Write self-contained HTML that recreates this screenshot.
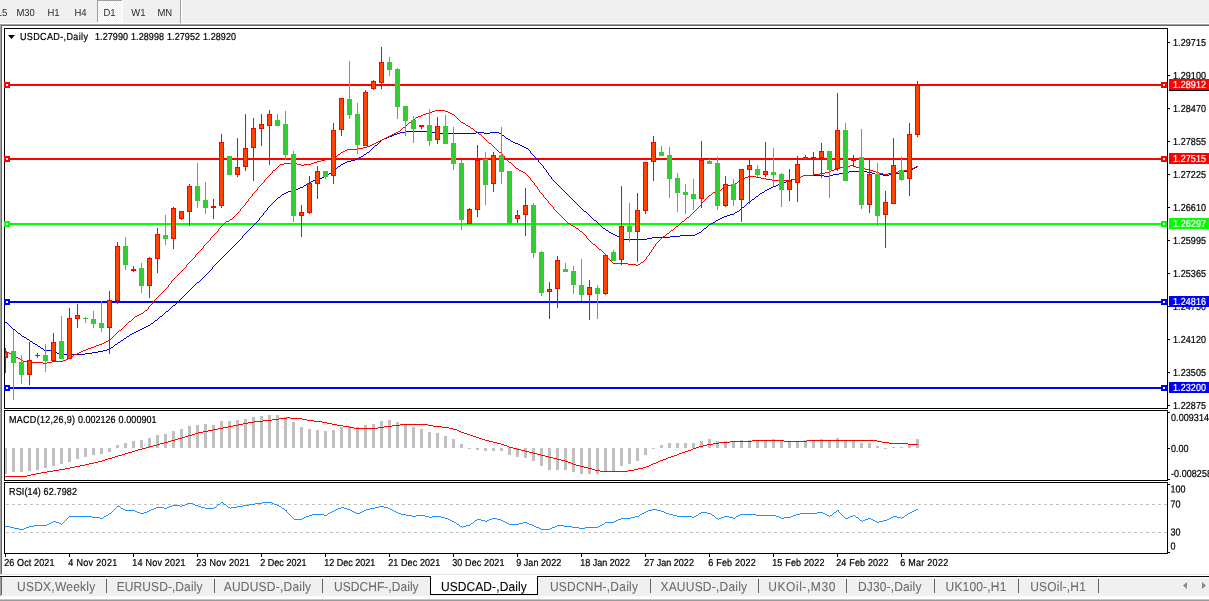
<!DOCTYPE html>
<html><head><meta charset="utf-8"><title>USDCAD-,Daily</title>
<style>html,body{margin:0;padding:0;background:#fff;overflow:hidden}svg text{white-space:pre}</style></head>
<body>
<svg width="1209" height="601" viewBox="0 0 1209 601" shape-rendering="crispEdges" font-family="Liberation Sans, sans-serif" style="display:block">
<rect x="0" y="0" width="1209" height="601" fill="#f0f0f0"/>
<rect x="0" y="23" width="1209" height="1" fill="#ffffff"/>
<rect x="0" y="24" width="1209" height="1" fill="#a0a0a0"/>
<rect x="0" y="25" width="1209" height="1" fill="#696969"/>
<rect x="0" y="26" width="1209" height="550" fill="#ffffff"/>
<rect x="0" y="24" width="1" height="551" fill="#a0a0a0"/>
<rect x="1" y="25" width="1" height="550" fill="#696969"/>
<rect x="0" y="574" width="1209" height="1" fill="#e3e3e3"/>
<rect x="2" y="575" width="1209" height="1" fill="#ffffff"/>
<rect x="0" y="576" width="1209" height="1" fill="#000000"/>
<rect x="0" y="577" width="1209" height="19" fill="#f0f0f0"/>
<rect x="0" y="577" width="1209" height="1" fill="#f8f8f8"/>
<rect x="0" y="577" width="1" height="19" fill="#a0a0a0"/>
<rect x="1" y="577" width="1" height="18" fill="#696969"/>
<rect x="0" y="596" width="1209" height="3" fill="#ffffff"/>
<rect x="0" y="599" width="1209" height="1" fill="#c8c8c8"/>
<rect x="0" y="600" width="1209" height="1" fill="#9a9a9a"/>
<defs><pattern id="chk" width="2" height="2" patternUnits="userSpaceOnUse"><rect width="2" height="2" fill="#f0f0f0"/><rect width="1" height="1" fill="#ffffff"/><rect x="1" y="1" width="1" height="1" fill="#ffffff"/></pattern></defs>
<rect x="97" y="0" width="25" height="22" fill="url(#chk)"/>
<rect x="97" y="0" width="25" height="1" fill="#a0a0a0"/>
<rect x="97" y="0" width="1" height="22" fill="#a0a0a0"/>
<rect x="122" y="0" width="1" height="22" fill="#ffffff"/>
<rect x="97" y="22" width="26" height="1" fill="#ffffff"/>
<rect x="180" y="0" width="1" height="23" fill="#a0a0a0"/>
<rect x="181" y="0" width="1" height="23" fill="#ffffff"/>
<text transform="translate(-3.3 16) rotate(0.05) scale(1 1.07)" font-size="9.5" fill="#2a2a2a" stroke="#2a2a2a" stroke-width="0" >15</text>
<text transform="translate(16.4 16) rotate(0.05) scale(1 1.07)" font-size="9.5" fill="#2a2a2a" stroke="#2a2a2a" stroke-width="0" >M30</text>
<text transform="translate(47.4 16) rotate(0.05) scale(1 1.07)" font-size="9.5" fill="#2a2a2a" stroke="#2a2a2a" stroke-width="0" >H1</text>
<text transform="translate(74.4 16) rotate(0.05) scale(1 1.07)" font-size="9.5" fill="#2a2a2a" stroke="#2a2a2a" stroke-width="0" >H4</text>
<text transform="translate(103.4 16) rotate(0.05) scale(1 1.07)" font-size="9.5" fill="#2a2a2a" stroke="#2a2a2a" stroke-width="0" >D1</text>
<text transform="translate(131.2 16) rotate(0.05) scale(1 1.07)" font-size="9.5" fill="#2a2a2a" stroke="#2a2a2a" stroke-width="0" >W1</text>
<text transform="translate(157.4 16) rotate(0.05) scale(1 1.07)" font-size="9.5" fill="#2a2a2a" stroke="#2a2a2a" stroke-width="0" >MN</text>
<rect x="4" y="28" width="1164" height="1" fill="#000"/>
<rect x="4" y="408" width="1164" height="1" fill="#000"/>
<rect x="4" y="28" width="1" height="381" fill="#000"/>
<rect x="1167" y="28" width="1" height="381" fill="#000"/>
<rect x="4" y="410" width="1164" height="1" fill="#000"/>
<rect x="4" y="480" width="1164" height="1" fill="#000"/>
<rect x="4" y="410" width="1" height="71" fill="#000"/>
<rect x="1167" y="410" width="1" height="71" fill="#000"/>
<rect x="4" y="482" width="1164" height="1" fill="#000"/>
<rect x="4" y="553" width="1164" height="1" fill="#000"/>
<rect x="4" y="482" width="1" height="72" fill="#000"/>
<rect x="1167" y="482" width="1" height="72" fill="#000"/>
<clipPath id="cm"><rect x="5" y="29" width="1162" height="379"/></clipPath>
<clipPath id="c2"><rect x="5" y="411" width="1162" height="69"/></clipPath>
<clipPath id="c3"><rect x="5" y="483" width="1162" height="70"/></clipPath>
<rect x="5" y="84" width="1162" height="2" fill="#ff0000"/>
<rect x="5" y="158" width="1162" height="2" fill="#ff0000"/>
<rect x="5" y="223" width="1162" height="2" fill="#00ff00"/>
<rect x="5" y="301" width="1162" height="2" fill="#0000ff"/>
<rect x="5" y="387" width="1162" height="2" fill="#0000ff"/>
<g clip-path="url(#cm)">
<path fill="#0000cd" d="M5 322h2v1h-2zM7 323h1v1h-1zM8 324h1v1h-1zM9 325h1v1h-1zM10 326h1v1h-1zM11 327h1v1h-1zM12 328h1v1h-1zM13 329h2v1h-2zM15 330h1v1h-1zM16 331h1v1h-1zM17 332h1v1h-1zM18 333h2v1h-2zM20 334h1v1h-1zM21 335h1v1h-1zM22 336h2v1h-2zM24 337h2v1h-2zM26 338h1v1h-1zM27 339h2v1h-2zM29 340h1v1h-1zM30 341h2v1h-2zM32 342h1v1h-1zM33 343h2v1h-2zM35 344h2v1h-2zM37 345h1v1h-1zM38 346h2v1h-2zM40 347h1v1h-1zM41 348h2v1h-2zM43 349h1v1h-1zM44 350h8v1h-8zM52 351h2v1h-2zM54 352h3v1h-3zM57 353h4v1h-4zM61 354h24v1h-24zM85 353h7v1h-7zM92 352h6v1h-6zM98 351h5v1h-5zM103 350h4v1h-4zM107 349h3v1h-3zM110 348h1v1h-1zM111 347h2v1h-2zM113 346h1v1h-1zM114 345h1v1h-1zM115 344h2v1h-2zM117 343h1v1h-1zM118 342h2v1h-2zM120 341h1v1h-1zM121 340h2v1h-2zM123 339h1v1h-1zM124 338h2v1h-2zM126 337h1v1h-1zM127 336h2v1h-2zM129 335h1v1h-1zM130 334h2v1h-2zM132 333h2v1h-2zM134 332h2v1h-2zM136 331h2v1h-2zM138 330h2v1h-2zM140 329h2v1h-2zM142 328h2v1h-2zM144 327h2v1h-2zM146 326h2v1h-2zM148 325h2v1h-2zM150 324h1v1h-1zM151 323h2v1h-2zM153 322h1v1h-1zM154 321h1v1h-1zM155 320h2v1h-2zM157 319h1v1h-1zM158 318h1v1h-1zM159 317h1v1h-1zM160 316h2v1h-2zM162 315h1v1h-1zM163 314h1v1h-1zM164 313h1v1h-1zM165 312h1v1h-1zM166 311h2v1h-2zM168 310h1v1h-1zM169 309h1v1h-1zM170 308h1v1h-1zM171 307h1v1h-1zM172 306h1v1h-1zM173 305h2v1h-2zM175 304h1v1h-1zM176 303h1v1h-1zM177 302h1v1h-1zM178 301h1v1h-1zM179 300h1v1h-1zM180 299h1v1h-1zM181 298h1v1h-1zM182 297h1v1h-1zM183 296h1v1h-1zM184 295h1v1h-1zM185 294h1v1h-1zM186 293h1v1h-1zM187 292h1v1h-1zM188 291h1v1h-1zM189 290h1v1h-1zM190 289h1v1h-1zM191 288h1v1h-1zM192 287h1v1h-1zM193 286h1v1h-1zM194 285h1v1h-1zM195 284h1v1h-1zM196 283h1v1h-1zM197 282h2v1h-2zM199 281h1v1h-1zM200 280h1v1h-1zM201 279h1v1h-1zM202 278h1v1h-1zM203 277h1v1h-1zM204 276h1v1h-1zM205 275h1v1h-1zM206 274h1v1h-1zM207 273h1v1h-1zM208 272h1v1h-1zM209 271h1v1h-1zM210 270h1v1h-1zM211 269h1v1h-1zM212 267h1v2h-1zM213 266h1v1h-1zM214 265h1v1h-1zM215 264h1v1h-1zM216 263h1v1h-1zM217 262h1v1h-1zM218 261h1v1h-1zM219 260h1v1h-1zM220 259h1v1h-1zM221 258h1v1h-1zM222 257h1v1h-1zM223 256h1v1h-1zM224 255h1v1h-1zM225 254h1v1h-1zM226 253h1v1h-1zM227 252h1v1h-1zM228 251h1v1h-1zM229 250h1v1h-1zM230 249h1v1h-1zM231 248h1v1h-1zM232 247h1v1h-1zM233 246h1v1h-1zM234 245h1v1h-1zM235 244h1v1h-1zM236 243h1v1h-1zM237 242h1v1h-1zM238 241h1v1h-1zM239 240h1v1h-1zM240 239h1v1h-1zM241 238h1v1h-1zM242 236h1v2h-1zM243 235h1v1h-1zM244 234h1v1h-1zM245 233h1v1h-1zM246 232h1v1h-1zM247 231h1v1h-1zM248 230h1v1h-1zM249 229h1v1h-1zM250 228h1v1h-1zM251 227h1v1h-1zM252 226h1v1h-1zM253 225h1v1h-1zM254 224h1v1h-1zM255 223h1v1h-1zM256 222h1v1h-1zM257 221h1v1h-1zM258 220h1v1h-1zM259 218h1v2h-1zM260 217h1v1h-1zM261 216h1v1h-1zM262 215h1v1h-1zM263 213h1v2h-1zM264 212h1v1h-1zM265 211h1v1h-1zM266 210h1v1h-1zM267 208h1v2h-1zM268 207h1v1h-1zM269 206h1v1h-1zM270 205h1v1h-1zM271 204h1v1h-1zM272 203h1v1h-1zM273 202h1v1h-1zM274 201h1v1h-1zM275 200h1v1h-1zM276 199h1v1h-1zM277 198h1v1h-1zM278 197h2v1h-2zM280 196h1v1h-1zM281 195h1v1h-1zM282 194h2v1h-2zM284 193h2v1h-2zM286 192h2v1h-2zM288 191h3v1h-3zM291 190h5v1h-5zM296 189h2v1h-2zM298 188h2v1h-2zM300 187h3v1h-3zM303 186h1v1h-1zM304 185h2v1h-2zM306 184h2v1h-2zM308 183h2v1h-2zM310 182h1v1h-1zM311 181h2v1h-2zM313 180h2v1h-2zM315 179h3v1h-3zM318 178h4v1h-4zM322 177h2v1h-2zM324 176h2v1h-2zM326 175h2v1h-2zM328 174h1v1h-1zM329 173h2v1h-2zM331 172h1v1h-1zM332 171h1v1h-1zM333 170h1v1h-1zM334 169h1v1h-1zM335 168h2v1h-2zM337 167h1v1h-1zM338 166h2v1h-2zM340 165h1v1h-1zM341 164h2v1h-2zM343 163h2v1h-2zM345 162h2v1h-2zM347 161h4v1h-4zM351 160h4v1h-4zM355 159h2v1h-2zM357 158h2v1h-2zM359 157h2v1h-2zM361 156h2v1h-2zM363 155h1v1h-1zM364 154h2v1h-2zM366 153h1v1h-1zM367 152h2v1h-2zM369 151h1v1h-1zM370 150h1v1h-1zM371 149h1v1h-1zM372 148h1v1h-1zM373 147h1v1h-1zM374 146h1v1h-1zM375 145h2v1h-2zM377 144h1v1h-1zM378 143h1v1h-1zM379 142h1v1h-1zM380 141h1v1h-1zM381 140h1v1h-1zM382 139h2v1h-2zM384 138h3v1h-3zM387 137h2v1h-2zM389 136h3v1h-3zM392 135h2v1h-2zM394 134h3v1h-3zM397 133h3v1h-3zM400 132h5v1h-5zM405 131h27v1h-27zM432 132h3v1h-3zM435 133h41v1h-41zM476 132h8v1h-8zM484 133h6v1h-6zM490 132h9v1h-9zM499 133h2v1h-2zM501 134h1v1h-1zM502 135h2v1h-2zM504 136h1v1h-1zM505 137h1v1h-1zM506 138h2v1h-2zM508 139h2v1h-2zM510 140h1v1h-1zM511 141h2v1h-2zM513 142h2v1h-2zM515 143h3v1h-3zM518 144h2v1h-2zM520 145h2v1h-2zM522 146h2v1h-2zM524 147h2v1h-2zM526 148h2v1h-2zM528 149h1v1h-1zM529 150h1v1h-1zM530 151h1v2h-1zM531 153h1v1h-1zM532 154h1v1h-1zM533 155h1v1h-1zM534 156h1v1h-1zM535 157h1v1h-1zM536 158h1v1h-1zM537 159h1v1h-1zM538 160h1v2h-1zM539 162h1v1h-1zM540 163h1v1h-1zM541 164h1v1h-1zM542 165h1v1h-1zM543 166h1v2h-1zM544 168h1v1h-1zM545 169h1v1h-1zM546 170h1v2h-1zM547 172h1v1h-1zM548 173h1v2h-1zM549 175h1v1h-1zM550 176h1v1h-1zM551 177h1v2h-1zM552 179h1v1h-1zM553 180h1v1h-1zM554 181h1v1h-1zM555 182h1v1h-1zM556 183h1v1h-1zM557 184h1v1h-1zM558 185h1v1h-1zM559 186h1v1h-1zM560 187h1v1h-1zM561 188h1v1h-1zM562 189h1v1h-1zM563 190h1v1h-1zM564 191h1v1h-1zM565 192h1v1h-1zM566 193h1v1h-1zM567 194h1v1h-1zM568 195h1v1h-1zM569 196h1v1h-1zM570 197h1v1h-1zM571 198h1v1h-1zM572 199h1v1h-1zM573 200h1v1h-1zM574 201h1v1h-1zM575 202h1v1h-1zM576 203h1v1h-1zM577 204h1v1h-1zM578 205h1v1h-1zM579 206h1v1h-1zM580 207h1v1h-1zM581 208h1v1h-1zM582 209h1v1h-1zM583 210h1v1h-1zM584 211h2v1h-2zM586 212h1v1h-1zM587 213h1v1h-1zM588 214h1v1h-1zM589 215h1v1h-1zM590 216h1v1h-1zM591 217h1v1h-1zM592 218h1v1h-1zM593 219h1v1h-1zM594 220h2v1h-2zM596 221h1v1h-1zM597 222h1v1h-1zM598 223h1v1h-1zM599 224h1v1h-1zM600 225h1v1h-1zM601 226h1v1h-1zM602 227h1v1h-1zM603 228h2v1h-2zM605 229h1v1h-1zM606 230h2v1h-2zM608 231h1v1h-1zM609 232h2v1h-2zM611 233h2v1h-2zM613 234h2v1h-2zM615 235h2v1h-2zM617 236h2v1h-2zM619 237h2v1h-2zM621 238h2v1h-2zM623 239h24v1h-24zM647 238h5v1h-5zM652 237h18v1h-18zM670 236h10v1h-10zM680 235h15v1h-15zM695 234h2v1h-2zM697 233h2v1h-2zM699 232h2v1h-2zM701 231h1v1h-1zM702 230h1v1h-1zM703 229h1v1h-1zM704 228h2v1h-2zM706 227h1v1h-1zM707 226h1v1h-1zM708 225h1v1h-1zM709 224h2v1h-2zM711 223h2v1h-2zM713 222h2v1h-2zM715 221h1v1h-1zM716 220h2v1h-2zM718 219h2v1h-2zM720 218h2v1h-2zM722 217h2v1h-2zM724 216h3v1h-3zM727 215h3v1h-3zM730 214h4v1h-4zM734 213h1v1h-1zM735 212h2v1h-2zM737 211h2v1h-2zM739 210h1v1h-1zM740 209h1v1h-1zM741 208h1v1h-1zM742 207h2v1h-2zM744 206h1v1h-1zM745 205h1v1h-1zM746 204h1v1h-1zM747 203h1v1h-1zM748 202h2v1h-2zM750 201h1v1h-1zM751 200h1v1h-1zM752 199h2v1h-2zM754 198h1v1h-1zM755 197h1v1h-1zM756 196h2v1h-2zM758 195h1v1h-1zM759 194h1v1h-1zM760 193h2v1h-2zM762 192h2v1h-2zM764 191h1v1h-1zM765 190h2v1h-2zM767 189h2v1h-2zM769 188h2v1h-2zM771 187h2v1h-2zM773 186h3v1h-3zM776 185h2v1h-2zM778 184h2v1h-2zM780 183h3v1h-3zM783 182h3v1h-3zM786 181h3v1h-3zM789 180h3v1h-3zM792 179h3v1h-3zM795 178h3v1h-3zM798 177h3v1h-3zM801 176h2v1h-2zM803 175h21v1h-21zM824 176h5v1h-5zM829 175h4v1h-4zM833 174h6v1h-6zM839 173h6v1h-6zM845 172h4v1h-4zM849 171h18v1h-18zM867 172h5v1h-5zM872 173h3v1h-3zM875 174h8v1h-8zM883 175h6v1h-6zM889 174h5v1h-5zM894 173h5v1h-5zM899 172h5v1h-5zM904 171h5v1h-5zM909 170h3v1h-3zM912 169h1v1h-1zM913 168h2v1h-2zM915 167h2v1h-2zM917 166h1v1h-1z"/>
<path fill="#ff0000" d="M5 351h2v1h-2zM7 352h2v1h-2zM9 353h2v1h-2zM11 354h2v1h-2zM13 355h2v1h-2zM15 356h1v1h-1zM16 357h2v1h-2zM18 358h2v1h-2zM20 359h2v1h-2zM22 360h1v1h-1zM23 361h4v1h-4zM27 362h3v1h-3zM30 363h1v1h-1zM31 362h12v1h-12zM43 363h4v1h-4zM47 362h5v1h-5zM52 361h11v1h-11zM63 360h3v1h-3zM66 359h2v1h-2zM68 358h3v1h-3zM71 357h1v1h-1zM72 356h1v1h-1zM73 355h1v1h-1zM74 354h3v1h-3zM77 353h2v1h-2zM79 352h2v1h-2zM81 351h2v1h-2zM83 350h3v1h-3zM86 349h2v1h-2zM88 348h3v1h-3zM91 347h3v1h-3zM94 346h2v1h-2zM96 345h3v1h-3zM99 344h3v1h-3zM102 343h2v1h-2zM104 342h2v1h-2zM106 341h2v1h-2zM108 340h2v1h-2zM110 339h1v1h-1zM111 338h1v1h-1zM112 337h1v1h-1zM113 336h1v1h-1zM114 335h1v1h-1zM115 334h1v1h-1zM116 333h1v1h-1zM117 332h1v1h-1zM118 331h1v1h-1zM119 330h2v1h-2zM121 329h1v1h-1zM122 328h1v1h-1zM123 327h1v1h-1zM124 326h1v1h-1zM125 325h1v1h-1zM126 324h1v1h-1zM127 323h1v1h-1zM128 322h1v1h-1zM129 321h2v1h-2zM131 320h1v1h-1zM132 319h1v1h-1zM133 318h1v1h-1zM134 317h1v1h-1zM135 316h2v1h-2zM137 315h2v1h-2zM139 314h2v1h-2zM141 313h2v1h-2zM143 312h1v1h-1zM144 311h1v1h-1zM145 310h2v1h-2zM147 309h1v1h-1zM148 307h1v2h-1zM149 306h1v1h-1zM150 305h1v1h-1zM151 304h1v1h-1zM152 302h1v2h-1zM153 301h1v1h-1zM154 300h1v1h-1zM155 299h1v1h-1zM156 298h1v1h-1zM157 297h1v1h-1zM158 296h1v1h-1zM159 295h1v1h-1zM160 294h1v1h-1zM161 293h1v1h-1zM162 292h1v1h-1zM163 291h1v1h-1zM164 290h1v1h-1zM165 289h1v1h-1zM166 288h1v1h-1zM167 287h1v1h-1zM168 285h1v2h-1zM169 284h1v1h-1zM170 283h1v1h-1zM171 281h1v2h-1zM172 280h1v1h-1zM173 279h1v1h-1zM174 278h1v1h-1zM175 277h1v1h-1zM176 276h1v1h-1zM177 275h1v1h-1zM178 274h1v1h-1zM179 273h1v1h-1zM180 272h1v1h-1zM181 271h1v1h-1zM182 270h1v1h-1zM183 269h1v1h-1zM184 268h1v1h-1zM185 267h1v1h-1zM186 265h1v2h-1zM187 264h1v1h-1zM188 263h1v1h-1zM189 262h1v1h-1zM190 261h1v1h-1zM191 260h1v1h-1zM192 259h1v1h-1zM193 258h1v1h-1zM194 257h1v1h-1zM195 255h1v2h-1zM196 254h1v1h-1zM197 253h1v1h-1zM198 252h1v1h-1zM199 251h1v1h-1zM200 250h1v1h-1zM201 249h1v1h-1zM202 248h1v1h-1zM203 246h1v2h-1zM204 245h1v1h-1zM205 244h1v1h-1zM206 243h1v1h-1zM207 242h1v1h-1zM208 241h1v1h-1zM209 240h1v1h-1zM210 238h1v2h-1zM211 237h1v1h-1zM212 236h1v1h-1zM213 235h1v1h-1zM214 234h1v1h-1zM215 233h1v1h-1zM216 232h1v1h-1zM217 231h1v1h-1zM218 229h1v2h-1zM219 228h1v1h-1zM220 227h1v1h-1zM221 226h1v1h-1zM222 225h1v1h-1zM223 224h1v1h-1zM224 223h1v1h-1zM225 222h1v1h-1zM226 221h3v1h-3zM229 220h1v1h-1zM230 219h2v1h-2zM232 218h1v1h-1zM233 217h1v1h-1zM234 216h1v1h-1zM235 215h1v1h-1zM236 214h1v1h-1zM237 213h1v1h-1zM238 212h1v1h-1zM239 211h1v1h-1zM240 209h1v2h-1zM241 208h1v1h-1zM242 207h1v1h-1zM243 206h1v1h-1zM244 205h1v1h-1zM245 203h1v2h-1zM246 202h1v1h-1zM247 201h1v1h-1zM248 199h1v2h-1zM249 198h1v1h-1zM250 197h1v1h-1zM251 196h1v1h-1zM252 194h1v2h-1zM253 193h1v1h-1zM254 192h1v1h-1zM255 191h1v1h-1zM256 190h1v1h-1zM257 188h1v2h-1zM258 187h1v1h-1zM259 186h1v1h-1zM260 185h1v1h-1zM261 184h1v1h-1zM262 183h1v1h-1zM263 182h1v1h-1zM264 180h1v2h-1zM265 179h1v1h-1zM266 178h1v1h-1zM267 177h1v1h-1zM268 176h1v1h-1zM269 175h1v1h-1zM270 174h1v1h-1zM271 173h1v1h-1zM272 171h1v2h-1zM273 170h2v1h-2zM275 169h1v1h-1zM276 168h1v1h-1zM277 167h1v1h-1zM278 166h1v1h-1zM279 165h1v1h-1zM280 164h4v1h-4zM284 163h8v1h-8zM292 162h2v1h-2zM294 163h3v1h-3zM297 164h4v1h-4zM301 165h3v1h-3zM304 164h7v1h-7zM311 163h3v1h-3zM314 162h3v1h-3zM317 161h4v1h-4zM321 160h4v1h-4zM325 159h7v1h-7zM332 158h3v1h-3zM335 157h1v1h-1zM336 156h1v1h-1zM337 155h1v1h-1zM338 154h2v1h-2zM340 153h1v1h-1zM341 152h2v1h-2zM343 151h2v1h-2zM345 150h2v1h-2zM347 149h11v1h-11zM358 148h5v1h-5zM363 147h4v1h-4zM367 146h3v1h-3zM370 145h2v1h-2zM372 144h2v1h-2zM374 143h2v1h-2zM376 142h2v1h-2zM378 141h2v1h-2zM380 140h2v1h-2zM382 139h2v1h-2zM384 138h2v1h-2zM386 137h2v1h-2zM388 136h2v1h-2zM390 135h2v1h-2zM392 134h2v1h-2zM394 133h2v1h-2zM396 132h2v1h-2zM398 131h2v1h-2zM400 130h1v1h-1zM401 129h1v1h-1zM402 128h1v1h-1zM403 127h2v1h-2zM405 126h1v1h-1zM406 125h1v1h-1zM407 124h1v1h-1zM408 123h1v1h-1zM409 122h2v1h-2zM411 121h1v1h-1zM412 120h1v1h-1zM413 119h2v1h-2zM415 118h1v1h-1zM416 117h2v1h-2zM418 116h3v1h-3zM421 115h2v1h-2zM423 114h3v1h-3zM426 113h3v1h-3zM429 112h3v1h-3zM432 111h3v1h-3zM435 110h10v1h-10zM445 111h3v1h-3zM448 112h2v1h-2zM450 113h2v1h-2zM452 114h2v1h-2zM454 115h1v1h-1zM455 116h1v1h-1zM456 117h1v1h-1zM457 118h1v1h-1zM458 119h1v1h-1zM459 120h1v1h-1zM460 121h1v1h-1zM461 122h2v1h-2zM463 123h2v1h-2zM465 124h1v1h-1zM466 125h2v1h-2zM468 126h2v1h-2zM470 127h1v1h-1zM471 128h2v1h-2zM473 129h1v1h-1zM474 130h1v1h-1zM475 131h2v1h-2zM477 132h1v1h-1zM478 133h1v1h-1zM479 134h2v1h-2zM481 135h1v1h-1zM482 136h1v1h-1zM483 137h1v1h-1zM484 138h1v1h-1zM485 139h1v1h-1zM486 140h1v1h-1zM487 141h1v1h-1zM488 142h1v1h-1zM489 143h2v1h-2zM491 144h1v1h-1zM492 145h1v1h-1zM493 146h1v1h-1zM494 147h1v1h-1zM495 148h1v1h-1zM496 149h1v1h-1zM497 150h1v1h-1zM498 151h1v1h-1zM499 152h2v1h-2zM501 153h1v1h-1zM502 154h1v1h-1zM503 155h1v1h-1zM504 156h1v2h-1zM505 158h1v1h-1zM506 159h1v1h-1zM507 160h1v1h-1zM508 161h1v1h-1zM509 162h2v1h-2zM511 163h1v1h-1zM512 164h1v1h-1zM513 165h1v1h-1zM514 166h1v1h-1zM515 167h1v1h-1zM516 168h2v1h-2zM518 169h1v1h-1zM519 170h2v1h-2zM521 171h2v1h-2zM523 172h2v1h-2zM525 173h1v1h-1zM526 174h1v1h-1zM527 175h1v1h-1zM528 176h1v1h-1zM529 177h1v1h-1zM530 178h1v2h-1zM531 180h1v1h-1zM532 181h1v1h-1zM533 182h1v1h-1zM534 183h1v2h-1zM535 185h1v1h-1zM536 186h1v1h-1zM537 187h1v2h-1zM538 189h1v1h-1zM539 190h1v2h-1zM540 192h1v1h-1zM541 193h1v1h-1zM542 194h1v1h-1zM543 195h1v2h-1zM544 197h1v1h-1zM545 198h1v1h-1zM546 199h1v1h-1zM547 200h1v1h-1zM548 201h1v2h-1zM549 203h1v1h-1zM550 204h1v1h-1zM551 205h1v1h-1zM552 206h1v1h-1zM553 207h1v2h-1zM554 209h1v1h-1zM555 210h1v1h-1zM556 211h1v1h-1zM557 212h1v1h-1zM558 213h1v1h-1zM559 214h1v1h-1zM560 215h1v1h-1zM561 216h1v1h-1zM562 217h1v1h-1zM563 218h1v1h-1zM564 219h1v1h-1zM565 220h1v1h-1zM566 221h1v1h-1zM567 222h1v1h-1zM568 223h2v1h-2zM570 224h1v1h-1zM571 225h2v1h-2zM573 226h2v1h-2zM575 227h1v1h-1zM576 228h2v1h-2zM578 229h1v1h-1zM579 230h1v1h-1zM580 231h2v1h-2zM582 232h1v1h-1zM583 233h1v1h-1zM584 234h1v1h-1zM585 235h1v1h-1zM586 236h1v2h-1zM587 238h1v1h-1zM588 239h1v1h-1zM589 240h1v1h-1zM590 241h1v1h-1zM591 242h1v1h-1zM592 243h1v1h-1zM593 244h2v1h-2zM595 245h1v1h-1zM596 246h1v1h-1zM597 247h1v1h-1zM598 248h1v1h-1zM599 249h2v1h-2zM601 250h1v1h-1zM602 251h1v1h-1zM603 252h1v1h-1zM604 253h1v1h-1zM605 254h1v2h-1zM606 256h1v1h-1zM607 257h1v1h-1zM608 258h1v1h-1zM609 259h1v1h-1zM610 260h1v1h-1zM611 261h1v1h-1zM612 262h1v1h-1zM613 263h15v1h-15zM628 264h8v1h-8zM636 265h2v1h-2zM638 264h2v1h-2zM640 263h1v1h-1zM641 262h2v1h-2zM643 261h1v1h-1zM644 260h1v1h-1zM645 259h1v1h-1zM646 257h1v2h-1zM647 256h1v1h-1zM648 255h1v1h-1zM649 253h1v2h-1zM650 252h1v1h-1zM651 250h1v2h-1zM652 249h1v1h-1zM653 247h1v2h-1zM654 246h1v1h-1zM655 244h1v2h-1zM656 243h1v1h-1zM657 242h1v1h-1zM658 241h1v1h-1zM659 240h1v1h-1zM660 239h1v1h-1zM661 238h1v1h-1zM662 237h1v1h-1zM663 236h2v1h-2zM665 235h1v1h-1zM666 234h1v1h-1zM667 233h2v1h-2zM669 232h1v1h-1zM670 231h1v1h-1zM671 230h2v1h-2zM673 229h1v1h-1zM674 228h1v1h-1zM675 227h1v1h-1zM676 226h2v1h-2zM678 225h1v1h-1zM679 224h1v1h-1zM680 223h1v1h-1zM681 222h1v1h-1zM682 221h2v1h-2zM684 220h1v1h-1zM685 219h1v1h-1zM686 218h1v1h-1zM687 217h2v1h-2zM689 216h1v1h-1zM690 215h1v1h-1zM691 214h1v1h-1zM692 213h1v1h-1zM693 212h1v1h-1zM694 211h1v1h-1zM695 210h1v1h-1zM696 209h1v1h-1zM697 208h1v1h-1zM698 207h1v1h-1zM699 206h1v1h-1zM700 205h1v1h-1zM701 203h1v2h-1zM702 202h1v1h-1zM703 201h1v1h-1zM704 200h1v1h-1zM705 199h1v1h-1zM706 198h1v1h-1zM707 197h1v1h-1zM708 196h1v1h-1zM709 195h2v1h-2zM711 194h1v1h-1zM712 193h1v1h-1zM713 192h3v1h-3zM716 191h2v1h-2zM718 190h3v1h-3zM721 189h1v1h-1zM722 188h1v1h-1zM723 187h2v1h-2zM725 186h1v1h-1zM726 185h5v1h-5zM731 184h4v1h-4zM735 183h2v1h-2zM737 182h1v1h-1zM738 181h2v1h-2zM740 180h2v1h-2zM742 179h1v1h-1zM743 178h2v1h-2zM745 177h3v1h-3zM748 176h8v1h-8zM756 177h5v1h-5zM761 178h5v1h-5zM766 179h6v1h-6zM772 180h19v1h-19zM791 179h4v1h-4zM795 178h3v1h-3zM798 177h3v1h-3zM801 176h2v1h-2zM803 175h10v1h-10zM813 174h7v1h-7zM820 173h5v1h-5zM825 172h4v1h-4zM829 171h2v1h-2zM831 170h3v1h-3zM834 169h3v1h-3zM837 168h3v1h-3zM840 167h3v1h-3zM843 166h7v1h-7zM850 165h3v1h-3zM853 166h3v1h-3zM856 167h3v1h-3zM859 168h6v1h-6zM865 169h5v1h-5zM870 170h3v1h-3zM873 171h3v1h-3zM876 172h3v1h-3zM879 173h4v1h-4zM883 174h5v1h-5zM888 173h4v1h-4zM892 172h6v1h-6zM898 171h6v1h-6zM904 170h5v1h-5zM909 169h3v1h-3zM912 168h2v1h-2zM914 167h2v1h-2zM916 166h2v1h-2z"/>
<rect x="5" y="348" width="1" height="25" fill="#ff0000"/>
<rect x="3" y="352" width="5" height="6" fill="#ff0000"/>
<rect x="4" y="353" width="3" height="4" fill="#ff4500"/>
<rect x="13" y="330" width="1" height="70" fill="#32cd32"/>
<rect x="11" y="351" width="5" height="12" fill="#32cd32"/>
<rect x="21" y="355" width="1" height="29" fill="#32cd32"/>
<rect x="19" y="362" width="5" height="13" fill="#32cd32"/>
<rect x="29" y="342" width="1" height="43" fill="#ff0000"/>
<rect x="27" y="360" width="5" height="15" fill="#ff0000"/>
<rect x="28" y="361" width="3" height="13" fill="#ff4500"/>
<rect x="37" y="353" width="1" height="5" fill="#ff0000"/>
<rect x="35" y="355" width="5" height="1" fill="#ff0000"/>
<rect x="45" y="344" width="1" height="28" fill="#32cd32"/>
<rect x="43" y="355" width="5" height="6" fill="#32cd32"/>
<rect x="53" y="333" width="1" height="28" fill="#ff0000"/>
<rect x="51" y="342" width="5" height="19" fill="#ff0000"/>
<rect x="52" y="343" width="3" height="17" fill="#ff4500"/>
<rect x="61" y="316" width="1" height="43" fill="#32cd32"/>
<rect x="59" y="341" width="5" height="18" fill="#32cd32"/>
<rect x="69" y="308" width="1" height="51" fill="#ff0000"/>
<rect x="67" y="318" width="5" height="41" fill="#ff0000"/>
<rect x="68" y="319" width="3" height="39" fill="#ff4500"/>
<rect x="77" y="304" width="1" height="24" fill="#ff0000"/>
<rect x="75" y="315" width="5" height="4" fill="#ff0000"/>
<rect x="76" y="316" width="3" height="2" fill="#ff4500"/>
<rect x="85" y="317" width="1" height="6" fill="#32cd32"/>
<rect x="83" y="318" width="5" height="1" fill="#32cd32"/>
<rect x="93" y="311" width="1" height="17" fill="#32cd32"/>
<rect x="91" y="319" width="5" height="5" fill="#32cd32"/>
<rect x="101" y="301" width="1" height="31" fill="#32cd32"/>
<rect x="99" y="323" width="5" height="5" fill="#32cd32"/>
<rect x="109" y="291" width="1" height="63" fill="#ff0000"/>
<rect x="107" y="300" width="5" height="28" fill="#ff0000"/>
<rect x="108" y="301" width="3" height="26" fill="#ff4500"/>
<rect x="117" y="242" width="1" height="62" fill="#ff0000"/>
<rect x="115" y="246" width="5" height="55" fill="#ff0000"/>
<rect x="116" y="247" width="3" height="53" fill="#ff4500"/>
<rect x="125" y="237" width="1" height="33" fill="#32cd32"/>
<rect x="123" y="246" width="5" height="19" fill="#32cd32"/>
<rect x="133" y="266" width="1" height="6" fill="#ff0000"/>
<rect x="131" y="269" width="5" height="2" fill="#ff0000"/>
<rect x="141" y="263" width="1" height="30" fill="#32cd32"/>
<rect x="139" y="268" width="5" height="18" fill="#32cd32"/>
<rect x="149" y="257" width="1" height="41" fill="#ff0000"/>
<rect x="147" y="258" width="5" height="28" fill="#ff0000"/>
<rect x="148" y="259" width="3" height="26" fill="#ff4500"/>
<rect x="157" y="228" width="1" height="45" fill="#ff0000"/>
<rect x="155" y="234" width="5" height="25" fill="#ff0000"/>
<rect x="156" y="235" width="3" height="23" fill="#ff4500"/>
<rect x="165" y="215" width="1" height="30" fill="#32cd32"/>
<rect x="163" y="235" width="5" height="4" fill="#32cd32"/>
<rect x="173" y="207" width="1" height="42" fill="#ff0000"/>
<rect x="171" y="208" width="5" height="31" fill="#ff0000"/>
<rect x="172" y="209" width="3" height="29" fill="#ff4500"/>
<rect x="181" y="211" width="1" height="9" fill="#ff0000"/>
<rect x="179" y="211" width="5" height="8" fill="#ff0000"/>
<rect x="180" y="212" width="3" height="6" fill="#ff4500"/>
<rect x="189" y="184" width="1" height="42" fill="#ff0000"/>
<rect x="187" y="186" width="5" height="26" fill="#ff0000"/>
<rect x="188" y="187" width="3" height="24" fill="#ff4500"/>
<rect x="197" y="163" width="1" height="45" fill="#32cd32"/>
<rect x="195" y="186" width="5" height="15" fill="#32cd32"/>
<rect x="205" y="182" width="1" height="32" fill="#32cd32"/>
<rect x="203" y="200" width="5" height="8" fill="#32cd32"/>
<rect x="213" y="199" width="1" height="20" fill="#ff0000"/>
<rect x="211" y="206" width="5" height="2" fill="#ff0000"/>
<rect x="221" y="134" width="1" height="74" fill="#ff0000"/>
<rect x="219" y="142" width="5" height="64" fill="#ff0000"/>
<rect x="220" y="143" width="3" height="62" fill="#ff4500"/>
<rect x="229" y="156" width="1" height="19" fill="#32cd32"/>
<rect x="227" y="156" width="5" height="19" fill="#32cd32"/>
<rect x="237" y="138" width="1" height="39" fill="#ff0000"/>
<rect x="235" y="167" width="5" height="8" fill="#ff0000"/>
<rect x="236" y="168" width="3" height="6" fill="#ff4500"/>
<rect x="245" y="114" width="1" height="57" fill="#ff0000"/>
<rect x="243" y="148" width="5" height="19" fill="#ff0000"/>
<rect x="244" y="149" width="3" height="17" fill="#ff4500"/>
<rect x="253" y="118" width="1" height="63" fill="#ff0000"/>
<rect x="251" y="128" width="5" height="20" fill="#ff0000"/>
<rect x="252" y="129" width="3" height="18" fill="#ff4500"/>
<rect x="261" y="114" width="1" height="32" fill="#ff0000"/>
<rect x="259" y="124" width="5" height="5" fill="#ff0000"/>
<rect x="260" y="125" width="3" height="3" fill="#ff4500"/>
<rect x="269" y="110" width="1" height="55" fill="#ff0000"/>
<rect x="267" y="114" width="5" height="12" fill="#ff0000"/>
<rect x="268" y="115" width="3" height="10" fill="#ff4500"/>
<rect x="277" y="114" width="1" height="12" fill="#32cd32"/>
<rect x="275" y="120" width="5" height="6" fill="#32cd32"/>
<rect x="285" y="111" width="1" height="49" fill="#32cd32"/>
<rect x="283" y="124" width="5" height="31" fill="#32cd32"/>
<rect x="293" y="151" width="1" height="71" fill="#32cd32"/>
<rect x="291" y="154" width="5" height="62" fill="#32cd32"/>
<rect x="301" y="205" width="1" height="32" fill="#ff0000"/>
<rect x="299" y="212" width="5" height="4" fill="#ff0000"/>
<rect x="300" y="213" width="3" height="2" fill="#ff4500"/>
<rect x="309" y="176" width="1" height="38" fill="#ff0000"/>
<rect x="307" y="183" width="5" height="30" fill="#ff0000"/>
<rect x="308" y="184" width="3" height="28" fill="#ff4500"/>
<rect x="317" y="166" width="1" height="33" fill="#ff0000"/>
<rect x="315" y="171" width="5" height="13" fill="#ff0000"/>
<rect x="316" y="172" width="3" height="11" fill="#ff4500"/>
<rect x="325" y="171" width="1" height="8" fill="#32cd32"/>
<rect x="323" y="171" width="5" height="6" fill="#32cd32"/>
<rect x="333" y="123" width="1" height="61" fill="#ff0000"/>
<rect x="331" y="130" width="5" height="46" fill="#ff0000"/>
<rect x="332" y="131" width="3" height="44" fill="#ff4500"/>
<rect x="341" y="98" width="1" height="38" fill="#ff0000"/>
<rect x="339" y="98" width="5" height="32" fill="#ff0000"/>
<rect x="340" y="99" width="3" height="30" fill="#ff4500"/>
<rect x="349" y="61" width="1" height="58" fill="#32cd32"/>
<rect x="347" y="99" width="5" height="16" fill="#32cd32"/>
<rect x="357" y="103" width="1" height="51" fill="#32cd32"/>
<rect x="355" y="114" width="5" height="31" fill="#32cd32"/>
<rect x="365" y="90" width="1" height="56" fill="#ff0000"/>
<rect x="363" y="92" width="5" height="54" fill="#ff0000"/>
<rect x="364" y="93" width="3" height="52" fill="#ff4500"/>
<rect x="373" y="80" width="1" height="10" fill="#ff0000"/>
<rect x="371" y="81" width="5" height="8" fill="#ff0000"/>
<rect x="372" y="82" width="3" height="6" fill="#ff4500"/>
<rect x="381" y="47" width="1" height="42" fill="#ff0000"/>
<rect x="379" y="62" width="5" height="21" fill="#ff0000"/>
<rect x="380" y="63" width="3" height="19" fill="#ff4500"/>
<rect x="389" y="57" width="1" height="19" fill="#32cd32"/>
<rect x="387" y="62" width="5" height="8" fill="#32cd32"/>
<rect x="397" y="68" width="1" height="51" fill="#32cd32"/>
<rect x="395" y="69" width="5" height="38" fill="#32cd32"/>
<rect x="405" y="106" width="1" height="30" fill="#32cd32"/>
<rect x="403" y="106" width="5" height="15" fill="#32cd32"/>
<rect x="413" y="116" width="1" height="27" fill="#32cd32"/>
<rect x="411" y="120" width="5" height="9" fill="#32cd32"/>
<rect x="421" y="125" width="1" height="4" fill="#ff0000"/>
<rect x="419" y="125" width="5" height="2" fill="#ff0000"/>
<rect x="429" y="109" width="1" height="37" fill="#32cd32"/>
<rect x="427" y="125" width="5" height="16" fill="#32cd32"/>
<rect x="437" y="117" width="1" height="27" fill="#ff0000"/>
<rect x="435" y="126" width="5" height="14" fill="#ff0000"/>
<rect x="436" y="127" width="3" height="12" fill="#ff4500"/>
<rect x="445" y="115" width="1" height="29" fill="#32cd32"/>
<rect x="443" y="126" width="5" height="18" fill="#32cd32"/>
<rect x="453" y="127" width="1" height="43" fill="#32cd32"/>
<rect x="451" y="143" width="5" height="21" fill="#32cd32"/>
<rect x="461" y="160" width="1" height="70" fill="#32cd32"/>
<rect x="459" y="163" width="5" height="57" fill="#32cd32"/>
<rect x="469" y="208" width="1" height="16" fill="#ff0000"/>
<rect x="467" y="209" width="5" height="15" fill="#ff0000"/>
<rect x="468" y="210" width="3" height="13" fill="#ff4500"/>
<rect x="477" y="145" width="1" height="72" fill="#ff0000"/>
<rect x="475" y="160" width="5" height="50" fill="#ff0000"/>
<rect x="476" y="161" width="3" height="48" fill="#ff4500"/>
<rect x="485" y="152" width="1" height="53" fill="#32cd32"/>
<rect x="483" y="159" width="5" height="26" fill="#32cd32"/>
<rect x="493" y="152" width="1" height="40" fill="#ff0000"/>
<rect x="491" y="155" width="5" height="29" fill="#ff0000"/>
<rect x="492" y="156" width="3" height="27" fill="#ff4500"/>
<rect x="501" y="127" width="1" height="57" fill="#32cd32"/>
<rect x="499" y="155" width="5" height="17" fill="#32cd32"/>
<rect x="509" y="171" width="1" height="53" fill="#32cd32"/>
<rect x="507" y="171" width="5" height="53" fill="#32cd32"/>
<rect x="517" y="210" width="1" height="13" fill="#ff0000"/>
<rect x="515" y="215" width="5" height="4" fill="#ff0000"/>
<rect x="516" y="216" width="3" height="2" fill="#ff4500"/>
<rect x="525" y="188" width="1" height="48" fill="#ff0000"/>
<rect x="523" y="205" width="5" height="10" fill="#ff0000"/>
<rect x="524" y="206" width="3" height="8" fill="#ff4500"/>
<rect x="533" y="203" width="1" height="55" fill="#32cd32"/>
<rect x="531" y="205" width="5" height="48" fill="#32cd32"/>
<rect x="541" y="251" width="1" height="45" fill="#32cd32"/>
<rect x="539" y="252" width="5" height="41" fill="#32cd32"/>
<rect x="549" y="282" width="1" height="37" fill="#ff0000"/>
<rect x="547" y="289" width="5" height="3" fill="#ff0000"/>
<rect x="548" y="290" width="3" height="1" fill="#ff4500"/>
<rect x="557" y="256" width="1" height="52" fill="#ff0000"/>
<rect x="555" y="260" width="5" height="29" fill="#ff0000"/>
<rect x="556" y="261" width="3" height="27" fill="#ff4500"/>
<rect x="565" y="263" width="1" height="9" fill="#32cd32"/>
<rect x="563" y="269" width="5" height="3" fill="#32cd32"/>
<rect x="573" y="266" width="1" height="28" fill="#32cd32"/>
<rect x="571" y="271" width="5" height="14" fill="#32cd32"/>
<rect x="581" y="259" width="1" height="42" fill="#32cd32"/>
<rect x="579" y="285" width="5" height="10" fill="#32cd32"/>
<rect x="589" y="280" width="1" height="40" fill="#ff0000"/>
<rect x="587" y="287" width="5" height="8" fill="#ff0000"/>
<rect x="588" y="288" width="3" height="6" fill="#ff4500"/>
<rect x="597" y="285" width="1" height="34" fill="#32cd32"/>
<rect x="595" y="288" width="5" height="6" fill="#32cd32"/>
<rect x="605" y="254" width="1" height="41" fill="#ff0000"/>
<rect x="603" y="255" width="5" height="39" fill="#ff0000"/>
<rect x="604" y="256" width="3" height="37" fill="#ff4500"/>
<rect x="613" y="250" width="1" height="11" fill="#32cd32"/>
<rect x="611" y="252" width="5" height="9" fill="#32cd32"/>
<rect x="621" y="186" width="1" height="79" fill="#ff0000"/>
<rect x="619" y="226" width="5" height="34" fill="#ff0000"/>
<rect x="620" y="227" width="3" height="32" fill="#ff4500"/>
<rect x="629" y="203" width="1" height="39" fill="#32cd32"/>
<rect x="627" y="226" width="5" height="6" fill="#32cd32"/>
<rect x="637" y="193" width="1" height="69" fill="#ff0000"/>
<rect x="635" y="210" width="5" height="22" fill="#ff0000"/>
<rect x="636" y="211" width="3" height="20" fill="#ff4500"/>
<rect x="645" y="162" width="1" height="52" fill="#ff0000"/>
<rect x="643" y="162" width="5" height="49" fill="#ff0000"/>
<rect x="644" y="163" width="3" height="47" fill="#ff4500"/>
<rect x="653" y="136" width="1" height="45" fill="#ff0000"/>
<rect x="651" y="142" width="5" height="20" fill="#ff0000"/>
<rect x="652" y="143" width="3" height="18" fill="#ff4500"/>
<rect x="661" y="146" width="1" height="10" fill="#32cd32"/>
<rect x="659" y="152" width="5" height="4" fill="#32cd32"/>
<rect x="669" y="147" width="1" height="51" fill="#32cd32"/>
<rect x="667" y="155" width="5" height="24" fill="#32cd32"/>
<rect x="677" y="173" width="1" height="39" fill="#32cd32"/>
<rect x="675" y="178" width="5" height="15" fill="#32cd32"/>
<rect x="685" y="184" width="1" height="30" fill="#32cd32"/>
<rect x="683" y="192" width="5" height="3" fill="#32cd32"/>
<rect x="693" y="179" width="1" height="31" fill="#32cd32"/>
<rect x="691" y="194" width="5" height="5" fill="#32cd32"/>
<rect x="701" y="141" width="1" height="67" fill="#ff0000"/>
<rect x="699" y="160" width="5" height="39" fill="#ff0000"/>
<rect x="700" y="161" width="3" height="37" fill="#ff4500"/>
<rect x="709" y="159" width="1" height="5" fill="#32cd32"/>
<rect x="707" y="161" width="5" height="3" fill="#32cd32"/>
<rect x="717" y="157" width="1" height="53" fill="#32cd32"/>
<rect x="715" y="163" width="5" height="43" fill="#32cd32"/>
<rect x="725" y="176" width="1" height="31" fill="#ff0000"/>
<rect x="723" y="184" width="5" height="22" fill="#ff0000"/>
<rect x="724" y="185" width="3" height="20" fill="#ff4500"/>
<rect x="733" y="179" width="1" height="27" fill="#32cd32"/>
<rect x="731" y="184" width="5" height="16" fill="#32cd32"/>
<rect x="741" y="169" width="1" height="53" fill="#ff0000"/>
<rect x="739" y="169" width="5" height="31" fill="#ff0000"/>
<rect x="740" y="170" width="3" height="29" fill="#ff4500"/>
<rect x="749" y="160" width="1" height="44" fill="#ff0000"/>
<rect x="747" y="165" width="5" height="5" fill="#ff0000"/>
<rect x="748" y="166" width="3" height="3" fill="#ff4500"/>
<rect x="757" y="165" width="1" height="12" fill="#32cd32"/>
<rect x="755" y="169" width="5" height="6" fill="#32cd32"/>
<rect x="765" y="142" width="1" height="35" fill="#ff0000"/>
<rect x="763" y="171" width="5" height="4" fill="#ff0000"/>
<rect x="764" y="172" width="3" height="2" fill="#ff4500"/>
<rect x="773" y="148" width="1" height="38" fill="#32cd32"/>
<rect x="771" y="172" width="5" height="3" fill="#32cd32"/>
<rect x="781" y="173" width="1" height="34" fill="#32cd32"/>
<rect x="779" y="174" width="5" height="16" fill="#32cd32"/>
<rect x="789" y="169" width="1" height="32" fill="#ff0000"/>
<rect x="787" y="181" width="5" height="9" fill="#ff0000"/>
<rect x="788" y="182" width="3" height="7" fill="#ff4500"/>
<rect x="797" y="156" width="1" height="46" fill="#ff0000"/>
<rect x="795" y="164" width="5" height="19" fill="#ff0000"/>
<rect x="796" y="165" width="3" height="17" fill="#ff4500"/>
<rect x="805" y="155" width="1" height="5" fill="#ff0000"/>
<rect x="803" y="157" width="5" height="3" fill="#ff0000"/>
<rect x="804" y="158" width="3" height="1" fill="#ff4500"/>
<rect x="813" y="152" width="1" height="24" fill="#ff0000"/>
<rect x="811" y="157" width="5" height="2" fill="#ff0000"/>
<rect x="821" y="143" width="1" height="35" fill="#ff0000"/>
<rect x="819" y="151" width="5" height="7" fill="#ff0000"/>
<rect x="820" y="152" width="3" height="5" fill="#ff4500"/>
<rect x="829" y="151" width="1" height="47" fill="#32cd32"/>
<rect x="827" y="151" width="5" height="19" fill="#32cd32"/>
<rect x="837" y="93" width="1" height="78" fill="#ff0000"/>
<rect x="835" y="130" width="5" height="39" fill="#ff0000"/>
<rect x="836" y="131" width="3" height="37" fill="#ff4500"/>
<rect x="845" y="123" width="1" height="58" fill="#32cd32"/>
<rect x="843" y="130" width="5" height="51" fill="#32cd32"/>
<rect x="853" y="155" width="1" height="11" fill="#ff0000"/>
<rect x="851" y="159" width="5" height="2" fill="#ff0000"/>
<rect x="861" y="129" width="1" height="80" fill="#32cd32"/>
<rect x="859" y="157" width="5" height="48" fill="#32cd32"/>
<rect x="869" y="160" width="1" height="53" fill="#ff0000"/>
<rect x="867" y="174" width="5" height="31" fill="#ff0000"/>
<rect x="868" y="175" width="3" height="29" fill="#ff4500"/>
<rect x="877" y="163" width="1" height="63" fill="#32cd32"/>
<rect x="875" y="174" width="5" height="42" fill="#32cd32"/>
<rect x="885" y="191" width="1" height="57" fill="#ff0000"/>
<rect x="883" y="202" width="5" height="13" fill="#ff0000"/>
<rect x="884" y="203" width="3" height="11" fill="#ff4500"/>
<rect x="893" y="138" width="1" height="66" fill="#ff0000"/>
<rect x="891" y="165" width="5" height="39" fill="#ff0000"/>
<rect x="892" y="166" width="3" height="37" fill="#ff4500"/>
<rect x="901" y="157" width="1" height="24" fill="#32cd32"/>
<rect x="899" y="170" width="5" height="10" fill="#32cd32"/>
<rect x="909" y="123" width="1" height="73" fill="#ff0000"/>
<rect x="907" y="134" width="5" height="45" fill="#ff0000"/>
<rect x="908" y="135" width="3" height="43" fill="#ff4500"/>
<rect x="917" y="81" width="1" height="56" fill="#ff0000"/>
<rect x="915" y="85" width="5" height="50" fill="#ff0000"/>
<rect x="916" y="86" width="3" height="48" fill="#ff4500"/>
</g>
<rect x="4" y="82" width="6" height="6" fill="#ff0000"/>
<rect x="6" y="84" width="2" height="2" fill="#fff"/>
<rect x="1161" y="82" width="6" height="6" fill="#ff0000"/>
<rect x="1163" y="84" width="2" height="2" fill="#fff"/>
<rect x="4" y="156" width="6" height="6" fill="#ff0000"/>
<rect x="6" y="158" width="2" height="2" fill="#fff"/>
<rect x="1161" y="156" width="6" height="6" fill="#ff0000"/>
<rect x="1163" y="158" width="2" height="2" fill="#fff"/>
<rect x="4" y="221" width="6" height="6" fill="#00ff00"/>
<rect x="6" y="223" width="2" height="2" fill="#fff"/>
<rect x="1161" y="221" width="6" height="6" fill="#00ff00"/>
<rect x="1163" y="223" width="2" height="2" fill="#fff"/>
<rect x="4" y="299" width="6" height="6" fill="#0000ff"/>
<rect x="6" y="301" width="2" height="2" fill="#fff"/>
<rect x="1161" y="299" width="6" height="6" fill="#0000ff"/>
<rect x="1163" y="301" width="2" height="2" fill="#fff"/>
<rect x="4" y="385" width="6" height="6" fill="#0000ff"/>
<rect x="6" y="387" width="2" height="2" fill="#fff"/>
<rect x="1161" y="385" width="6" height="6" fill="#0000ff"/>
<rect x="1163" y="387" width="2" height="2" fill="#fff"/>
<rect x="1168" y="42" width="2" height="1" fill="#000"/>
<text transform="translate(1173 46) rotate(0.05) scale(1 1.13)" font-size="9" fill="#000" textLength="33" lengthAdjust="spacing" stroke="#000" stroke-width="0.2" >1.29715</text>
<rect x="1168" y="75" width="2" height="1" fill="#000"/>
<text transform="translate(1173 79) rotate(0.05) scale(1 1.13)" font-size="9" fill="#000" textLength="33" lengthAdjust="spacing" stroke="#000" stroke-width="0.2" >1.29100</text>
<rect x="1168" y="108" width="2" height="1" fill="#000"/>
<text transform="translate(1173 112) rotate(0.05) scale(1 1.13)" font-size="9" fill="#000" textLength="33" lengthAdjust="spacing" stroke="#000" stroke-width="0.2" >1.28470</text>
<rect x="1168" y="141" width="2" height="1" fill="#000"/>
<text transform="translate(1173 145) rotate(0.05) scale(1 1.13)" font-size="9" fill="#000" textLength="33" lengthAdjust="spacing" stroke="#000" stroke-width="0.2" >1.27855</text>
<rect x="1168" y="174" width="2" height="1" fill="#000"/>
<text transform="translate(1173 178) rotate(0.05) scale(1 1.13)" font-size="9" fill="#000" textLength="33" lengthAdjust="spacing" stroke="#000" stroke-width="0.2" >1.27225</text>
<rect x="1168" y="207" width="2" height="1" fill="#000"/>
<text transform="translate(1173 211) rotate(0.05) scale(1 1.13)" font-size="9" fill="#000" textLength="33" lengthAdjust="spacing" stroke="#000" stroke-width="0.2" >1.26610</text>
<rect x="1168" y="240" width="2" height="1" fill="#000"/>
<text transform="translate(1173 244) rotate(0.05) scale(1 1.13)" font-size="9" fill="#000" textLength="33" lengthAdjust="spacing" stroke="#000" stroke-width="0.2" >1.25995</text>
<rect x="1168" y="273" width="2" height="1" fill="#000"/>
<text transform="translate(1173 277) rotate(0.05) scale(1 1.13)" font-size="9" fill="#000" textLength="33" lengthAdjust="spacing" stroke="#000" stroke-width="0.2" >1.25365</text>
<rect x="1168" y="306" width="2" height="1" fill="#000"/>
<text transform="translate(1173 310) rotate(0.05) scale(1 1.13)" font-size="9" fill="#000" textLength="33" lengthAdjust="spacing" stroke="#000" stroke-width="0.2" >1.24750</text>
<rect x="1168" y="339" width="2" height="1" fill="#000"/>
<text transform="translate(1173 343) rotate(0.05) scale(1 1.13)" font-size="9" fill="#000" textLength="33" lengthAdjust="spacing" stroke="#000" stroke-width="0.2" >1.24120</text>
<rect x="1168" y="372" width="2" height="1" fill="#000"/>
<text transform="translate(1173 376) rotate(0.05) scale(1 1.13)" font-size="9" fill="#000" textLength="33" lengthAdjust="spacing" stroke="#000" stroke-width="0.2" >1.23505</text>
<rect x="1168" y="405" width="2" height="1" fill="#000"/>
<text transform="translate(1173 409) rotate(0.05) scale(1 1.13)" font-size="9" fill="#000" textLength="33" lengthAdjust="spacing" stroke="#000" stroke-width="0.2" >1.22875</text>
<rect x="1169" y="79" width="40" height="11" fill="#ff0000"/>
<text transform="translate(1173 88) rotate(0.05) scale(1 1.13)" font-size="9" fill="#fff" textLength="33" lengthAdjust="spacing" stroke="#fff" stroke-width="0.2" >1.28912</text>
<rect x="1169" y="153" width="40" height="11" fill="#ff0000"/>
<text transform="translate(1173 162) rotate(0.05) scale(1 1.13)" font-size="9" fill="#fff" textLength="33" lengthAdjust="spacing" stroke="#fff" stroke-width="0.2" >1.27515</text>
<rect x="1169" y="218" width="40" height="11" fill="#00ff00"/>
<text transform="translate(1173 227) rotate(0.05) scale(1 1.13)" font-size="9" fill="#fff" textLength="33" lengthAdjust="spacing" stroke="#fff" stroke-width="0.2" >1.26297</text>
<rect x="1169" y="296" width="40" height="11" fill="#0000ff"/>
<text transform="translate(1173 305) rotate(0.05) scale(1 1.13)" font-size="9" fill="#fff" textLength="33" lengthAdjust="spacing" stroke="#fff" stroke-width="0.2" >1.24816</text>
<rect x="1169" y="382" width="40" height="11" fill="#0000ff"/>
<text transform="translate(1173 391) rotate(0.05) scale(1 1.13)" font-size="9" fill="#fff" textLength="33" lengthAdjust="spacing" stroke="#fff" stroke-width="0.2" >1.23200</text>
<rect x="1169" y="90" width="40" height="1" fill="#000"/>
<path d="M8 35h7l-3.5 4z" fill="#000" shape-rendering="geometricPrecision"/>
<text transform="translate(20 40) rotate(0.05) scale(1 1.13)" font-size="9" fill="#000" textLength="68" lengthAdjust="spacing" stroke="#000" stroke-width="0.2" >USDCAD-,Daily</text>
<text transform="translate(95 40) rotate(0.05) scale(1 1.13)" font-size="9" fill="#000" textLength="33" lengthAdjust="spacing" stroke="#000" stroke-width="0.2" >1.27990</text>
<text transform="translate(131 40) rotate(0.05) scale(1 1.13)" font-size="9" fill="#000" textLength="33" lengthAdjust="spacing" stroke="#000" stroke-width="0.2" >1.28998</text>
<text transform="translate(167 40) rotate(0.05) scale(1 1.13)" font-size="9" fill="#000" textLength="33" lengthAdjust="spacing" stroke="#000" stroke-width="0.2" >1.27952</text>
<text transform="translate(203 40) rotate(0.05) scale(1 1.13)" font-size="9" fill="#000" textLength="33" lengthAdjust="spacing" stroke="#000" stroke-width="0.2" >1.28920</text>
<g clip-path="url(#c2)">
<rect x="4" y="448" width="3" height="26" fill="#c0c0c0"/>
<rect x="12" y="448" width="3" height="24" fill="#c0c0c0"/>
<rect x="20" y="448" width="3" height="24" fill="#c0c0c0"/>
<rect x="28" y="448" width="3" height="23" fill="#c0c0c0"/>
<rect x="36" y="448" width="3" height="22" fill="#c0c0c0"/>
<rect x="44" y="448" width="3" height="20" fill="#c0c0c0"/>
<rect x="52" y="448" width="3" height="18" fill="#c0c0c0"/>
<rect x="60" y="448" width="3" height="16" fill="#c0c0c0"/>
<rect x="68" y="448" width="3" height="14" fill="#c0c0c0"/>
<rect x="76" y="448" width="3" height="11" fill="#c0c0c0"/>
<rect x="84" y="448" width="3" height="9" fill="#c0c0c0"/>
<rect x="92" y="448" width="3" height="7" fill="#c0c0c0"/>
<rect x="100" y="448" width="3" height="6" fill="#c0c0c0"/>
<rect x="108" y="448" width="3" height="4" fill="#c0c0c0"/>
<rect x="116" y="445" width="3" height="3" fill="#c0c0c0"/>
<rect x="124" y="443" width="3" height="5" fill="#c0c0c0"/>
<rect x="132" y="441" width="3" height="7" fill="#c0c0c0"/>
<rect x="140" y="440" width="3" height="8" fill="#c0c0c0"/>
<rect x="148" y="438" width="3" height="10" fill="#c0c0c0"/>
<rect x="156" y="435" width="3" height="13" fill="#c0c0c0"/>
<rect x="164" y="434" width="3" height="14" fill="#c0c0c0"/>
<rect x="172" y="431" width="3" height="17" fill="#c0c0c0"/>
<rect x="180" y="429" width="3" height="19" fill="#c0c0c0"/>
<rect x="188" y="426" width="3" height="22" fill="#c0c0c0"/>
<rect x="196" y="425" width="3" height="23" fill="#c0c0c0"/>
<rect x="204" y="424" width="3" height="24" fill="#c0c0c0"/>
<rect x="212" y="425" width="3" height="23" fill="#c0c0c0"/>
<rect x="220" y="421" width="3" height="27" fill="#c0c0c0"/>
<rect x="228" y="421" width="3" height="27" fill="#c0c0c0"/>
<rect x="236" y="420" width="3" height="28" fill="#c0c0c0"/>
<rect x="244" y="419" width="3" height="29" fill="#c0c0c0"/>
<rect x="252" y="417" width="3" height="31" fill="#c0c0c0"/>
<rect x="260" y="416" width="3" height="32" fill="#c0c0c0"/>
<rect x="268" y="415" width="3" height="33" fill="#c0c0c0"/>
<rect x="276" y="415" width="3" height="33" fill="#c0c0c0"/>
<rect x="284" y="417" width="3" height="31" fill="#c0c0c0"/>
<rect x="292" y="422" width="3" height="26" fill="#c0c0c0"/>
<rect x="300" y="427" width="3" height="21" fill="#c0c0c0"/>
<rect x="308" y="429" width="3" height="19" fill="#c0c0c0"/>
<rect x="316" y="430" width="3" height="18" fill="#c0c0c0"/>
<rect x="324" y="431" width="3" height="17" fill="#c0c0c0"/>
<rect x="332" y="430" width="3" height="18" fill="#c0c0c0"/>
<rect x="340" y="427" width="3" height="21" fill="#c0c0c0"/>
<rect x="348" y="426" width="3" height="22" fill="#c0c0c0"/>
<rect x="356" y="427" width="3" height="21" fill="#c0c0c0"/>
<rect x="364" y="425" width="3" height="23" fill="#c0c0c0"/>
<rect x="372" y="424" width="3" height="24" fill="#c0c0c0"/>
<rect x="380" y="421" width="3" height="27" fill="#c0c0c0"/>
<rect x="388" y="420" width="3" height="28" fill="#c0c0c0"/>
<rect x="396" y="422" width="3" height="26" fill="#c0c0c0"/>
<rect x="404" y="424" width="3" height="24" fill="#c0c0c0"/>
<rect x="412" y="427" width="3" height="21" fill="#c0c0c0"/>
<rect x="420" y="429" width="3" height="19" fill="#c0c0c0"/>
<rect x="428" y="432" width="3" height="16" fill="#c0c0c0"/>
<rect x="436" y="433" width="3" height="15" fill="#c0c0c0"/>
<rect x="444" y="436" width="3" height="12" fill="#c0c0c0"/>
<rect x="452" y="439" width="3" height="9" fill="#c0c0c0"/>
<rect x="460" y="444" width="3" height="4" fill="#c0c0c0"/>
<rect x="468" y="448" width="3" height="1" fill="#c0c0c0"/>
<rect x="476" y="448" width="3" height="2" fill="#c0c0c0"/>
<rect x="484" y="448" width="3" height="3" fill="#c0c0c0"/>
<rect x="492" y="448" width="3" height="3" fill="#c0c0c0"/>
<rect x="500" y="448" width="3" height="3" fill="#c0c0c0"/>
<rect x="508" y="448" width="3" height="7" fill="#c0c0c0"/>
<rect x="516" y="448" width="3" height="9" fill="#c0c0c0"/>
<rect x="524" y="448" width="3" height="10" fill="#c0c0c0"/>
<rect x="532" y="448" width="3" height="13" fill="#c0c0c0"/>
<rect x="540" y="448" width="3" height="18" fill="#c0c0c0"/>
<rect x="548" y="448" width="3" height="22" fill="#c0c0c0"/>
<rect x="556" y="448" width="3" height="22" fill="#c0c0c0"/>
<rect x="564" y="448" width="3" height="22" fill="#c0c0c0"/>
<rect x="572" y="448" width="3" height="24" fill="#c0c0c0"/>
<rect x="580" y="448" width="3" height="26" fill="#c0c0c0"/>
<rect x="588" y="448" width="3" height="26" fill="#c0c0c0"/>
<rect x="596" y="448" width="3" height="26" fill="#c0c0c0"/>
<rect x="604" y="448" width="3" height="24" fill="#c0c0c0"/>
<rect x="612" y="448" width="3" height="24" fill="#c0c0c0"/>
<rect x="620" y="448" width="3" height="18" fill="#c0c0c0"/>
<rect x="628" y="448" width="3" height="16" fill="#c0c0c0"/>
<rect x="636" y="448" width="3" height="13" fill="#c0c0c0"/>
<rect x="644" y="448" width="3" height="7" fill="#c0c0c0"/>
<rect x="652" y="448" width="3" height="1" fill="#c0c0c0"/>
<rect x="660" y="445" width="3" height="3" fill="#c0c0c0"/>
<rect x="668" y="443" width="3" height="5" fill="#c0c0c0"/>
<rect x="676" y="443" width="3" height="5" fill="#c0c0c0"/>
<rect x="684" y="443" width="3" height="5" fill="#c0c0c0"/>
<rect x="692" y="443" width="3" height="5" fill="#c0c0c0"/>
<rect x="700" y="441" width="3" height="7" fill="#c0c0c0"/>
<rect x="708" y="439" width="3" height="9" fill="#c0c0c0"/>
<rect x="716" y="441" width="3" height="7" fill="#c0c0c0"/>
<rect x="724" y="441" width="3" height="7" fill="#c0c0c0"/>
<rect x="732" y="442" width="3" height="6" fill="#c0c0c0"/>
<rect x="740" y="440" width="3" height="8" fill="#c0c0c0"/>
<rect x="748" y="440" width="3" height="8" fill="#c0c0c0"/>
<rect x="756" y="440" width="3" height="8" fill="#c0c0c0"/>
<rect x="764" y="440" width="3" height="8" fill="#c0c0c0"/>
<rect x="772" y="439" width="3" height="9" fill="#c0c0c0"/>
<rect x="780" y="441" width="3" height="7" fill="#c0c0c0"/>
<rect x="788" y="441" width="3" height="7" fill="#c0c0c0"/>
<rect x="796" y="441" width="3" height="7" fill="#c0c0c0"/>
<rect x="804" y="440" width="3" height="8" fill="#c0c0c0"/>
<rect x="812" y="440" width="3" height="8" fill="#c0c0c0"/>
<rect x="820" y="439" width="3" height="9" fill="#c0c0c0"/>
<rect x="828" y="440" width="3" height="8" fill="#c0c0c0"/>
<rect x="836" y="438" width="3" height="10" fill="#c0c0c0"/>
<rect x="844" y="440" width="3" height="8" fill="#c0c0c0"/>
<rect x="852" y="440" width="3" height="8" fill="#c0c0c0"/>
<rect x="860" y="443" width="3" height="5" fill="#c0c0c0"/>
<rect x="868" y="443" width="3" height="5" fill="#c0c0c0"/>
<rect x="876" y="446" width="3" height="2" fill="#c0c0c0"/>
<rect x="884" y="448" width="3" height="1" fill="#c0c0c0"/>
<rect x="892" y="447" width="3" height="1" fill="#c0c0c0"/>
<rect x="900" y="447" width="3" height="1" fill="#c0c0c0"/>
<rect x="908" y="445" width="3" height="3" fill="#c0c0c0"/>
<rect x="916" y="439" width="3" height="9" fill="#c0c0c0"/>
<path fill="#ff0000" d="M5 476h22v1h-22zM27 475h4v1h-4zM31 474h5v1h-5zM36 473h5v1h-5zM41 472h6v1h-6zM47 471h6v1h-6zM53 470h6v1h-6zM59 469h6v1h-6zM65 468h5v1h-5zM70 467h5v1h-5zM75 466h5v1h-5zM80 465h5v1h-5zM85 464h4v1h-4zM89 463h5v1h-5zM94 462h4v1h-4zM98 461h4v1h-4zM102 460h3v1h-3zM105 459h3v1h-3zM108 458h4v1h-4zM112 457h3v1h-3zM115 456h3v1h-3zM118 455h4v1h-4zM122 454h3v1h-3zM125 453h3v1h-3zM128 452h4v1h-4zM132 451h3v1h-3zM135 450h3v1h-3zM138 449h4v1h-4zM142 448h4v1h-4zM146 447h3v1h-3zM149 446h4v1h-4zM153 445h4v1h-4zM157 444h3v1h-3zM160 443h4v1h-4zM164 442h4v1h-4zM168 441h3v1h-3zM171 440h4v1h-4zM175 439h3v1h-3zM178 438h4v1h-4zM182 437h3v1h-3zM185 436h3v1h-3zM188 435h4v1h-4zM192 434h3v1h-3zM195 433h3v1h-3zM198 432h5v1h-5zM203 431h5v1h-5zM208 430h5v1h-5zM213 429h5v1h-5zM218 428h5v1h-5zM223 427h5v1h-5zM228 426h5v1h-5zM233 425h5v1h-5zM238 424h5v1h-5zM243 423h5v1h-5zM248 422h6v1h-6zM254 421h9v1h-9zM263 420h9v1h-9zM272 419h7v1h-7zM279 418h8v1h-8zM287 417h3v1h-3zM290 418h12v1h-12zM302 419h5v1h-5zM307 420h7v1h-7zM314 421h8v1h-8zM322 422h5v1h-5zM327 423h5v1h-5zM332 424h5v1h-5zM337 425h6v1h-6zM343 426h6v1h-6zM349 427h5v1h-5zM354 428h24v1h-24zM378 427h6v1h-6zM384 426h8v1h-8zM392 425h8v1h-8zM400 424h28v1h-28zM428 425h5v1h-5zM433 426h9v1h-9zM442 427h7v1h-7zM449 428h4v1h-4zM453 429h4v1h-4zM457 430h2v1h-2zM459 431h2v1h-2zM461 432h3v1h-3zM464 433h3v1h-3zM467 434h3v1h-3zM470 435h3v1h-3zM473 436h3v1h-3zM476 437h3v1h-3zM479 438h3v1h-3zM482 439h3v1h-3zM485 440h4v1h-4zM489 441h4v1h-4zM493 442h4v1h-4zM497 443h4v1h-4zM501 444h3v1h-3zM504 445h3v1h-3zM507 446h2v1h-2zM509 447h4v1h-4zM513 448h4v1h-4zM517 449h4v1h-4zM521 450h4v1h-4zM525 451h4v1h-4zM529 452h4v1h-4zM533 453h4v1h-4zM537 454h4v1h-4zM541 455h4v1h-4zM545 456h4v1h-4zM549 457h4v1h-4zM553 458h4v1h-4zM557 459h4v1h-4zM561 460h4v1h-4zM565 461h3v1h-3zM568 462h3v1h-3zM571 463h2v1h-2zM573 464h3v1h-3zM576 465h4v1h-4zM580 466h4v1h-4zM584 467h4v1h-4zM588 468h4v1h-4zM592 469h3v1h-3zM595 470h5v1h-5zM600 471h28v1h-28zM628 470h6v1h-6zM634 469h4v1h-4zM638 468h5v1h-5zM643 467h3v1h-3zM646 466h3v1h-3zM649 465h2v1h-2zM651 464h2v1h-2zM653 463h3v1h-3zM656 462h2v1h-2zM658 461h2v1h-2zM660 460h3v1h-3zM663 459h3v1h-3zM666 458h2v1h-2zM668 457h3v1h-3zM671 456h3v1h-3zM674 455h3v1h-3zM677 454h2v1h-2zM679 453h3v1h-3zM682 452h3v1h-3zM685 451h3v1h-3zM688 450h3v1h-3zM691 449h2v1h-2zM693 448h3v1h-3zM696 447h3v1h-3zM699 446h4v1h-4zM703 445h4v1h-4zM707 444h6v1h-6zM713 443h6v1h-6zM719 442h11v1h-11zM730 441h22v1h-22zM752 440h32v1h-32zM784 441h23v1h-23zM807 440h70v1h-70zM877 441h5v1h-5zM882 442h7v1h-7zM889 443h19v1h-19zM908 444h10v1h-10z"/>
</g>
<text transform="translate(9 423) rotate(0.05) scale(1 1.13)" font-size="9" fill="#000" textLength="66" lengthAdjust="spacing" stroke="#000" stroke-width="0.2" >MACD(12,26,9)</text>
<text transform="translate(78 423) rotate(0.05) scale(1 1.13)" font-size="9" fill="#000" textLength="37.4" lengthAdjust="spacing" stroke="#000" stroke-width="0.2" >0.002126</text>
<text transform="translate(118.6 423) rotate(0.05) scale(1 1.13)" font-size="9" fill="#000" textLength="38" lengthAdjust="spacing" stroke="#000" stroke-width="0.2" >0.000901</text>
<rect x="1168" y="412" width="2" height="1" fill="#000"/>
<text transform="translate(1171 421) rotate(0.05) scale(1 1.13)" font-size="9" fill="#000" textLength="38" lengthAdjust="spacing" stroke="#000" stroke-width="0.2" >0.009314</text>
<rect x="1168" y="448" width="2" height="1" fill="#000"/>
<text transform="translate(1171 452) rotate(0.05) scale(1 1.13)" font-size="9" fill="#000" stroke="#000" stroke-width="0.2" >0.00</text>
<rect x="1168" y="479" width="2" height="1" fill="#000"/>
<text transform="translate(1171 477) rotate(0.05) scale(1 1.13)" font-size="9" fill="#000" textLength="41" lengthAdjust="spacing" stroke="#000" stroke-width="0.2" >-0.008258</text>
<g clip-path="url(#c3)">
<line x1="6" y1="504.5" x2="1167" y2="504.5" stroke="#c0c0c0" stroke-width="1" stroke-dasharray="3 3"/>
<line x1="6" y1="532.5" x2="1167" y2="532.5" stroke="#c0c0c0" stroke-width="1" stroke-dasharray="3 3"/>
<path fill="#1e90ff" d="M5 526h5v1h-5zM10 527h4v1h-4zM14 528h5v1h-5zM19 529h5v1h-5zM24 528h2v1h-2zM26 527h3v1h-3zM29 526h5v1h-5zM34 525h13v1h-13zM47 524h2v1h-2zM49 523h2v1h-2zM51 522h2v1h-2zM53 521h3v1h-3zM56 522h3v1h-3zM59 523h2v1h-2zM61 524h1v1h-1zM62 523h1v1h-1zM63 522h1v1h-1zM64 521h1v1h-1zM65 520h1v1h-1zM66 519h1v1h-1zM67 518h1v1h-1zM68 517h1v1h-1zM69 516h23v1h-23zM92 517h8v1h-8zM100 518h3v1h-3zM103 517h1v1h-1zM104 516h2v1h-2zM106 515h2v1h-2zM108 514h1v1h-1zM109 513h2v1h-2zM111 512h1v1h-1zM112 511h1v1h-1zM113 510h1v1h-1zM114 509h1v1h-1zM115 508h1v1h-1zM116 507h1v1h-1zM117 506h3v1h-3zM120 507h1v1h-1zM121 508h2v1h-2zM123 509h2v1h-2zM125 510h10v1h-10zM135 511h2v1h-2zM137 512h3v1h-3zM140 513h4v1h-4zM144 512h3v1h-3zM147 511h2v1h-2zM149 510h2v1h-2zM151 509h3v1h-3zM154 508h2v1h-2zM156 507h8v1h-8zM164 508h3v1h-3zM167 507h2v1h-2zM169 506h3v1h-3zM172 505h8v1h-8zM180 506h2v1h-2zM182 505h3v1h-3zM185 504h2v1h-2zM187 503h6v1h-6zM193 504h2v1h-2zM195 505h3v1h-3zM198 506h3v1h-3zM201 507h4v1h-4zM205 508h9v1h-9zM214 507h2v1h-2zM216 506h1v1h-1zM217 505h1v1h-1zM218 504h2v1h-2zM220 503h1v1h-1zM221 502h2v1h-2zM223 503h1v1h-1zM224 504h2v1h-2zM226 505h1v1h-1zM227 506h1v1h-1zM228 507h2v1h-2zM230 508h1v1h-1zM231 507h6v1h-6zM237 506h6v1h-6zM243 505h6v1h-6zM249 504h6v1h-6zM255 503h7v1h-7zM262 502h10v1h-10zM272 503h2v1h-2zM274 504h3v1h-3zM277 505h2v1h-2zM279 506h2v1h-2zM281 507h1v1h-1zM282 508h2v1h-2zM284 509h1v1h-1zM285 510h1v1h-1zM286 510h1v2h-1zM287 512h1v1h-1zM288 513h1v1h-1zM289 514h1v1h-1zM290 515h1v1h-1zM291 516h1v1h-1zM292 517h1v1h-1zM293 518h1v1h-1zM294 519h8v1h-8zM302 518h2v1h-2zM304 517h2v1h-2zM306 516h3v1h-3zM309 515h3v1h-3zM312 514h12v1h-12zM324 515h3v1h-3zM327 514h1v1h-1zM328 513h2v1h-2zM330 512h2v1h-2zM332 511h2v1h-2zM334 510h2v1h-2zM336 509h2v1h-2zM338 508h3v1h-3zM341 507h3v1h-3zM344 508h3v1h-3zM347 509h3v1h-3zM350 510h2v1h-2zM352 511h2v1h-2zM354 512h2v1h-2zM356 513h4v1h-4zM360 512h2v1h-2zM362 511h2v1h-2zM364 510h2v1h-2zM366 509h4v1h-4zM370 508h5v1h-5zM375 507h4v1h-4zM379 506h5v1h-5zM384 507h4v1h-4zM388 508h2v1h-2zM390 509h2v1h-2zM392 510h2v1h-2zM394 511h2v1h-2zM396 512h2v1h-2zM398 513h3v1h-3zM401 514h5v1h-5zM406 515h6v1h-6zM412 516h4v1h-4zM416 515h9v1h-9zM425 516h4v1h-4zM429 517h3v1h-3zM432 516h9v1h-9zM441 517h4v1h-4zM445 518h3v1h-3zM448 519h2v1h-2zM450 520h2v1h-2zM452 521h2v1h-2zM454 522h2v1h-2zM456 523h1v1h-1zM457 524h2v1h-2zM459 525h1v1h-1zM460 526h2v1h-2zM462 527h1v1h-1zM463 526h3v1h-3zM466 525h4v1h-4zM470 524h1v1h-1zM471 523h2v1h-2zM473 522h1v1h-1zM474 521h1v1h-1zM475 520h2v1h-2zM477 519h4v1h-4zM481 520h4v1h-4zM485 521h2v1h-2zM487 520h2v1h-2zM489 519h3v1h-3zM492 518h5v1h-5zM497 519h4v1h-4zM501 520h2v1h-2zM503 521h2v1h-2zM505 522h2v1h-2zM507 523h2v1h-2zM509 524h10v1h-10zM519 523h4v1h-4zM523 522h4v1h-4zM527 523h2v1h-2zM529 524h3v1h-3zM532 525h2v1h-2zM534 526h2v1h-2zM536 527h3v1h-3zM539 528h2v1h-2zM541 529h9v1h-9zM550 528h2v1h-2zM552 527h3v1h-3zM555 526h2v1h-2zM557 525h7v1h-7zM564 526h8v1h-8zM572 527h7v1h-7zM579 528h6v1h-6zM585 527h13v1h-13zM598 526h2v1h-2zM600 525h2v1h-2zM602 524h2v1h-2zM604 523h1v1h-1zM605 522h9v1h-9zM614 521h2v1h-2zM616 520h2v1h-2zM618 519h3v1h-3zM621 518h10v1h-10zM631 517h4v1h-4zM635 516h4v1h-4zM639 515h1v1h-1zM640 514h2v1h-2zM642 513h2v1h-2zM644 512h2v1h-2zM646 511h2v1h-2zM648 510h4v1h-4zM652 509h5v1h-5zM657 510h4v1h-4zM661 511h3v1h-3zM664 512h2v1h-2zM666 513h3v1h-3zM669 514h4v1h-4zM673 515h4v1h-4zM677 516h15v1h-15zM692 517h2v1h-2zM694 516h2v1h-2zM696 515h2v1h-2zM698 514h1v1h-1zM699 513h2v1h-2zM701 512h6v1h-6zM707 513h4v1h-4zM711 514h1v1h-1zM712 515h2v1h-2zM714 516h1v1h-1zM715 517h1v1h-1zM716 518h2v1h-2zM718 519h1v1h-1zM719 518h2v1h-2zM721 517h3v1h-3zM724 516h5v1h-5zM729 517h4v1h-4zM733 518h2v1h-2zM735 517h1v1h-1zM736 516h2v1h-2zM738 515h2v1h-2zM740 514h16v1h-16zM756 515h20v1h-20zM776 516h3v1h-3zM779 517h2v1h-2zM781 518h3v1h-3zM784 517h7v1h-7zM791 516h2v1h-2zM793 515h3v1h-3zM796 514h4v1h-4zM800 513h17v1h-17zM817 512h6v1h-6zM823 513h2v1h-2zM825 514h2v1h-2zM827 515h2v1h-2zM829 516h1v1h-1zM830 515h2v1h-2zM832 514h1v1h-1zM833 513h1v1h-1zM834 512h2v1h-2zM836 511h1v1h-1zM837 510h1v1h-1zM838 510h1v2h-1zM839 512h1v1h-1zM840 513h1v1h-1zM841 514h1v1h-1zM842 515h1v1h-1zM843 516h1v1h-1zM844 517h1v1h-1zM845 518h3v1h-3zM848 517h2v1h-2zM850 516h3v1h-3zM853 515h2v1h-2zM855 516h1v1h-1zM856 517h2v1h-2zM858 518h1v1h-1zM859 519h1v1h-1zM860 520h2v1h-2zM862 521h1v1h-1zM863 520h2v1h-2zM865 519h3v1h-3zM868 518h3v1h-3zM871 519h2v1h-2zM873 520h2v1h-2zM875 521h2v1h-2zM877 522h2v1h-2zM879 521h4v1h-4zM883 520h4v1h-4zM887 519h2v1h-2zM889 518h2v1h-2zM891 517h2v1h-2zM893 516h4v1h-4zM897 517h4v1h-4zM901 518h1v1h-1zM902 517h2v1h-2zM904 516h1v1h-1zM905 515h2v1h-2zM907 514h1v1h-1zM908 513h2v1h-2zM910 512h2v1h-2zM912 511h2v1h-2zM914 510h2v1h-2zM916 509h2v1h-2z"/>
</g>
<text transform="translate(9 495) rotate(0.05) scale(1 1.13)" font-size="9" fill="#000" textLength="68" lengthAdjust="spacing" stroke="#000" stroke-width="0.2" >RSI(14) 62.7982</text>
<text transform="translate(1170.4 492.6) rotate(0.05) scale(1 1.13)" font-size="9" fill="#000" stroke="#000" stroke-width="0.2" >100</text>
<text transform="translate(1170.4 507.6) rotate(0.05) scale(1 1.13)" font-size="9" fill="#000" stroke="#000" stroke-width="0.2" >70</text>
<text transform="translate(1170.4 535.6) rotate(0.05) scale(1 1.13)" font-size="9" fill="#000" stroke="#000" stroke-width="0.2" >30</text>
<text transform="translate(1170.4 549.6) rotate(0.05) scale(1 1.13)" font-size="9" fill="#000" stroke="#000" stroke-width="0.2" >0</text>
<rect x="1168" y="484" width="2" height="1" fill="#000"/>
<rect x="1168" y="552" width="2" height="1" fill="#000"/>
<rect x="5" y="554" width="1" height="3" fill="#000"/>
<text transform="translate(4.2 566) rotate(0.05) scale(1 1.13)" font-size="9" fill="#000" textLength="50.3" lengthAdjust="spacing" stroke="#000" stroke-width="0.2" >26 Oct 2021</text>
<rect x="69" y="554" width="1" height="3" fill="#000"/>
<text transform="translate(68.2 566) rotate(0.05) scale(1 1.13)" font-size="9" fill="#000" textLength="49.1" lengthAdjust="spacing" stroke="#000" stroke-width="0.2" >4 Nov 2021</text>
<rect x="133" y="554" width="1" height="3" fill="#000"/>
<text transform="translate(132.2 566) rotate(0.05) scale(1 1.13)" font-size="9" fill="#000" textLength="53.4" lengthAdjust="spacing" stroke="#000" stroke-width="0.2" >14 Nov 2021</text>
<rect x="197" y="554" width="1" height="3" fill="#000"/>
<text transform="translate(196.2 566) rotate(0.05) scale(1 1.13)" font-size="9" fill="#000" textLength="53.5" lengthAdjust="spacing" stroke="#000" stroke-width="0.2" >23 Nov 2021</text>
<rect x="261" y="554" width="1" height="3" fill="#000"/>
<text transform="translate(260.2 566) rotate(0.05) scale(1 1.13)" font-size="9" fill="#000" textLength="46.3" lengthAdjust="spacing" stroke="#000" stroke-width="0.2" >2 Dec 2021</text>
<rect x="325" y="554" width="1" height="3" fill="#000"/>
<text transform="translate(324.2 566) rotate(0.05) scale(1 1.13)" font-size="9" fill="#000" textLength="51.1" lengthAdjust="spacing" stroke="#000" stroke-width="0.2" >12 Dec 2021</text>
<rect x="389" y="554" width="1" height="3" fill="#000"/>
<text transform="translate(388.2 566) rotate(0.05) scale(1 1.13)" font-size="9" fill="#000" textLength="52" lengthAdjust="spacing" stroke="#000" stroke-width="0.2" >21 Dec 2021</text>
<rect x="453" y="554" width="1" height="3" fill="#000"/>
<text transform="translate(452.2 566) rotate(0.05) scale(1 1.13)" font-size="9" fill="#000" textLength="52.3" lengthAdjust="spacing" stroke="#000" stroke-width="0.2" >30 Dec 2021</text>
<rect x="517" y="554" width="1" height="3" fill="#000"/>
<text transform="translate(516.2 566) rotate(0.05) scale(1 1.13)" font-size="9" fill="#000" textLength="45" lengthAdjust="spacing" stroke="#000" stroke-width="0.2" >9 Jan 2022</text>
<rect x="581" y="554" width="1" height="3" fill="#000"/>
<text transform="translate(580.2 566) rotate(0.05) scale(1 1.13)" font-size="9" fill="#000" textLength="49.7" lengthAdjust="spacing" stroke="#000" stroke-width="0.2" >18 Jan 2022</text>
<rect x="645" y="554" width="1" height="3" fill="#000"/>
<text transform="translate(644.2 566) rotate(0.05) scale(1 1.13)" font-size="9" fill="#000" textLength="49.7" lengthAdjust="spacing" stroke="#000" stroke-width="0.2" >27 Jan 2022</text>
<rect x="709" y="554" width="1" height="3" fill="#000"/>
<text transform="translate(708.2 566) rotate(0.05) scale(1 1.13)" font-size="9" fill="#000" textLength="47.6" lengthAdjust="spacing" stroke="#000" stroke-width="0.2" >6 Feb 2022</text>
<rect x="773" y="554" width="1" height="3" fill="#000"/>
<text transform="translate(772.2 566) rotate(0.05) scale(1 1.13)" font-size="9" fill="#000" textLength="52.3" lengthAdjust="spacing" stroke="#000" stroke-width="0.2" >15 Feb 2022</text>
<rect x="837" y="554" width="1" height="3" fill="#000"/>
<text transform="translate(836.2 566) rotate(0.05) scale(1 1.13)" font-size="9" fill="#000" textLength="52.3" lengthAdjust="spacing" stroke="#000" stroke-width="0.2" >24 Feb 2022</text>
<rect x="901" y="554" width="1" height="3" fill="#000"/>
<text transform="translate(900.2 566) rotate(0.05) scale(1 1.13)" font-size="9" fill="#000" textLength="48" lengthAdjust="spacing" stroke="#000" stroke-width="0.2" >6 Mar 2022</text>
<rect x="431" y="574" width="106" height="21" fill="#fff"/>
<rect x="431" y="574" width="106" height="1" fill="#e3e3e3"/>
<rect x="430" y="576" width="1" height="19" fill="#000"/>
<rect x="537" y="576" width="1" height="19" fill="#000"/>
<rect x="430" y="594" width="108" height="1" fill="#000"/>
<text transform="translate(17.0 591) rotate(0.05) scale(1 1.08)" font-size="12" fill="#6e6e6e" textLength="78.2" lengthAdjust="spacing" stroke="#6e6e6e" stroke-width="0.1" >USDX,Weekly</text>
<text transform="translate(116.7 591) rotate(0.05) scale(1 1.08)" font-size="12" fill="#6e6e6e" textLength="85.7" lengthAdjust="spacing" stroke="#6e6e6e" stroke-width="0.1" >EURUSD-,Daily</text>
<text transform="translate(223.7 591) rotate(0.05) scale(1 1.08)" font-size="12" fill="#6e6e6e" textLength="87.4" lengthAdjust="spacing" stroke="#6e6e6e" stroke-width="0.1" >AUDUSD-,Daily</text>
<text transform="translate(334.1 591) rotate(0.05) scale(1 1.08)" font-size="12" fill="#6e6e6e" textLength="84.5" lengthAdjust="spacing" stroke="#6e6e6e" stroke-width="0.1" >USDCHF-,Daily</text>
<text transform="translate(440.9 591) rotate(0.05) scale(1 1.08)" font-size="12" fill="#000" textLength="85.8" lengthAdjust="spacing" stroke="#000" stroke-width="0.1" >USDCAD-,Daily</text>
<text transform="translate(550.0 591) rotate(0.05) scale(1 1.08)" font-size="12" fill="#6e6e6e" textLength="87.9" lengthAdjust="spacing" stroke="#6e6e6e" stroke-width="0.1" >USDCNH-,Daily</text>
<text transform="translate(660.4 591) rotate(0.05) scale(1 1.08)" font-size="12" fill="#6e6e6e" textLength="86.7" lengthAdjust="spacing" stroke="#6e6e6e" stroke-width="0.1" >XAUUSD-,Daily</text>
<text transform="translate(768.2 591) rotate(0.05) scale(1 1.08)" font-size="12" fill="#6e6e6e" textLength="67.1" lengthAdjust="spacing" stroke="#6e6e6e" stroke-width="0.1" >UKOil-,M30</text>
<text transform="translate(858.0 591) rotate(0.05) scale(1 1.08)" font-size="12" fill="#6e6e6e" textLength="63.4" lengthAdjust="spacing" stroke="#6e6e6e" stroke-width="0.1" >DJ30-,Daily</text>
<text transform="translate(945.6 591) rotate(0.05) scale(1 1.08)" font-size="12" fill="#6e6e6e" textLength="60.7" lengthAdjust="spacing" stroke="#6e6e6e" stroke-width="0.1" >UK100-,H1</text>
<text transform="translate(1030.2 591) rotate(0.05) scale(1 1.08)" font-size="12" fill="#6e6e6e" textLength="55.6" lengthAdjust="spacing" stroke="#6e6e6e" stroke-width="0.1" >USOil-,H1</text>
<rect x="106" y="579" width="1" height="14" fill="#646464"/>
<rect x="214" y="579" width="1" height="14" fill="#646464"/>
<rect x="322" y="579" width="1" height="14" fill="#646464"/>
<rect x="650" y="579" width="1" height="14" fill="#646464"/>
<rect x="758" y="579" width="1" height="14" fill="#646464"/>
<rect x="846" y="579" width="1" height="14" fill="#646464"/>
<rect x="934" y="579" width="1" height="14" fill="#646464"/>
<rect x="1018" y="579" width="1" height="14" fill="#646464"/>
<rect x="1098" y="579" width="1" height="14" fill="#646464"/>
<path d="M1183 585.5l4-3.5v7z M1206 585.5l-4-3.5v7z" fill="#8a8a8a" shape-rendering="geometricPrecision"/>
</svg>
</body></html>
